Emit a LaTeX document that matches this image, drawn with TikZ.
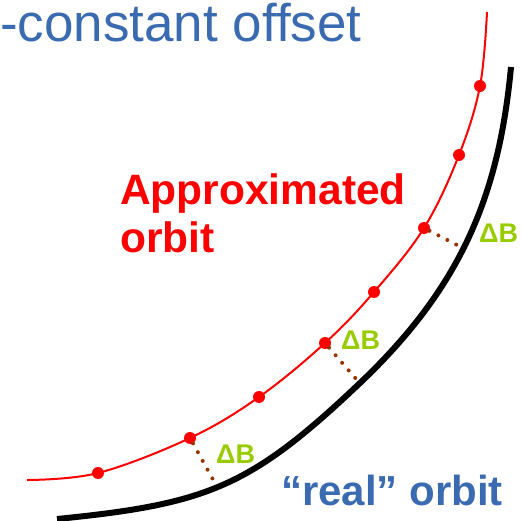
\documentclass[tikz,border=0pt]{standalone}
\usepackage{fontspec}
\setmainfont{Liberation Sans}
\definecolor{tblue}{RGB}{58,107,177}
\definecolor{dgreen}{RGB}{153,204,0}
\definecolor{dbrown}{RGB}{153,51,0}
\begin{document}
\begin{tikzpicture}[x=1pt,y=-1pt,
  rdot/.style={circle,fill=red,inner sep=0pt,minimum size=12pt},
  offs/.style={dbrown,line width=4pt,line cap=round,dash pattern=on 0pt off 10pt},
  dlab/.style={dgreen,font=\fontsize{27}{27}\selectfont\bfseries,anchor=base west,inner sep=0pt},
  rlab/.style={red,font=\fontsize{42.5}{48}\selectfont\bfseries,anchor=base west,inner sep=0pt},
  blab/.style={tblue,anchor=base west,inner sep=0pt}]
\useasboundingbox (0,0) rectangle (522,521);
% real orbit
\draw[black,line width=6pt] (57,519) .. controls (207,504) and (250,487.5) .. (360,383)
  .. controls (460,288) and (498.9,197) .. (511,67);
\coordinate (b1) at (216,485);
\coordinate (b2) at (357,380);
\coordinate (b3) at (459,246);
% approximated orbit
\draw[red,line width=2pt] plot[smooth,tension=0.6] coordinates {(27,480) (98,473) (190,438) (259,397) (325,343) (374,292) (424,228) (459,155) (480,86) (487,12)};
\node[rdot] (d1) at (98,473) {};
\node[rdot] (d2) at (190,438) {};
\node[rdot] (d3) at (259,397) {};
\node[rdot] (d4) at (325,343) {};
\node[rdot] (d5) at (374,292) {};
\node[rdot] (d6) at (424,228) {};
\node[rdot] (d7) at (459,155) {};
\node[rdot] (d8) at (480,86) {};
% offsets
\draw[offs] (d2) -- (b1);
\draw[offs] (d4) -- (b2);
\draw[offs] (d6) -- (b3);
\node[dlab] (l1) at (216,463) {ΔB};
\node[dlab] (l2) at (341,349) {ΔB};
\node[dlab] (l3) at (479,243) {ΔB};
% texts
\node[blab,font=\fontsize{53}{53}\selectfont] (title) at (0,42) {-constant offset};
\node[rlab] (ap1) at (120,205) {Approximated};
\node[rlab] (ap2) at (120,253) {orbit};
\node[blab,font=\fontsize{42}{42}\selectfont\bfseries] (real) at (281,505) {“real” orbit};
\end{tikzpicture}
\end{document}
